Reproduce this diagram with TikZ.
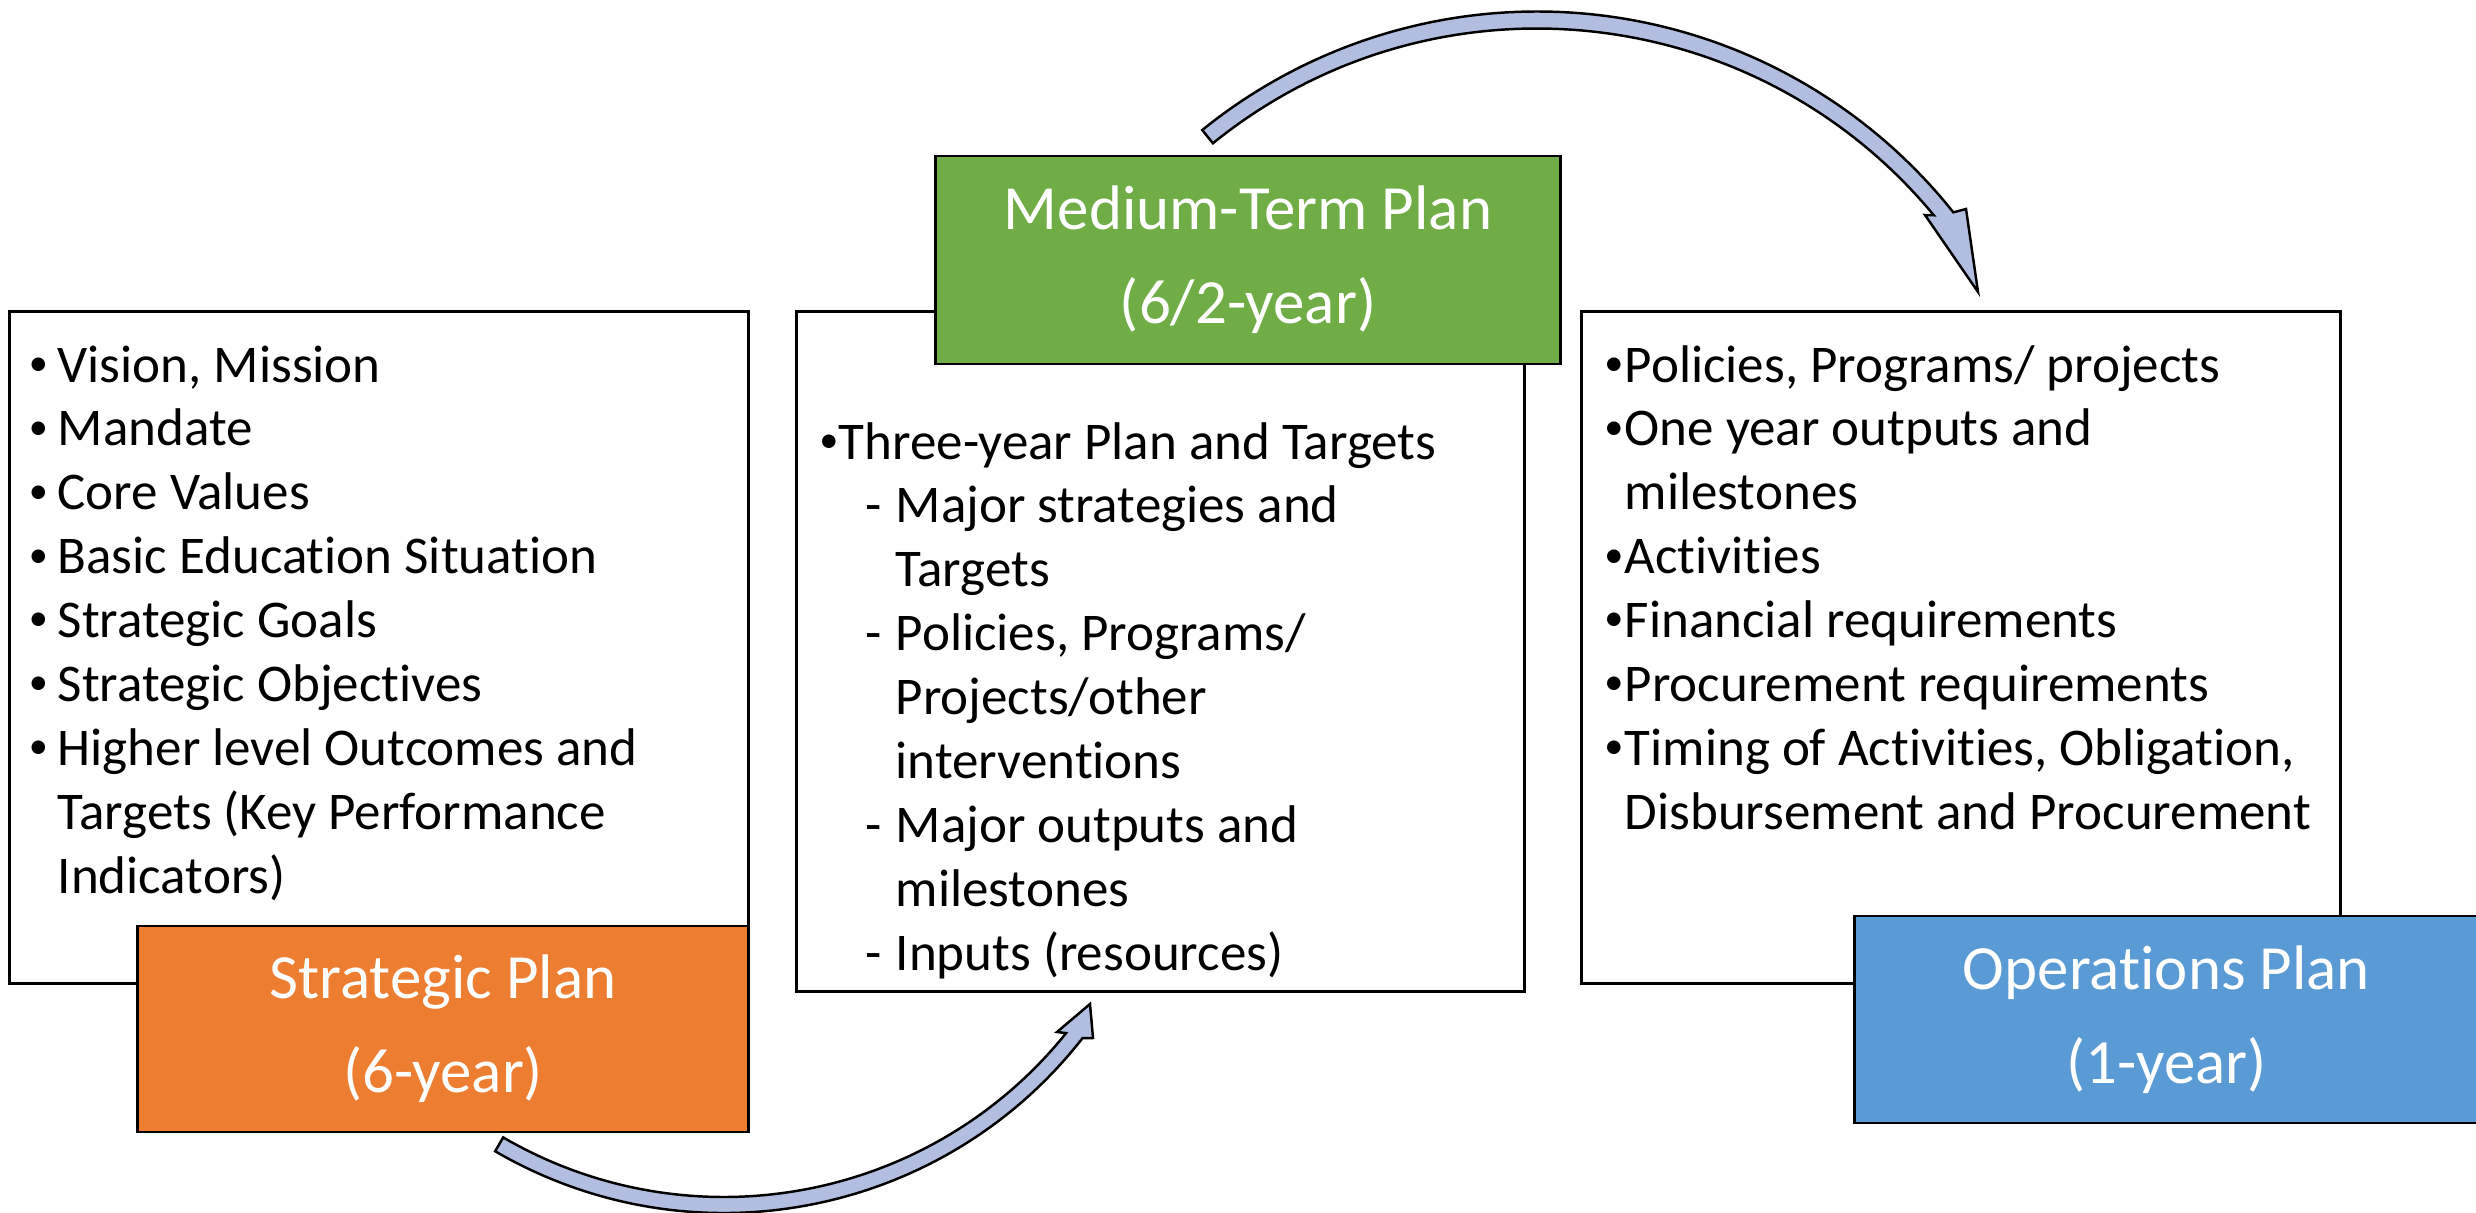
\documentclass[tikz,border=0pt]{standalone}
\usepackage{fontspec}
\setmainfont{Carlito}[Ligatures={NoCommon,NoContextual,NoRare},RawFeature=-calt]
\usetikzlibrary{calc}
\definecolor{orangeP}{RGB}{237,125,49}
\definecolor{greenP}{RGB}{112,173,71}
\definecolor{blueP}{RGB}{91,155,213}
\definecolor{arrowP}{RGB}{178,190,224}
\newcommand{\smallbul}{\raisebox{1.9pt}{\fontsize{10.9pt}{12pt}\selectfont •}}
\newcommand{\nl}{\kern0pt }
\tikzset{
  panel/.style={draw=black, line width=0.8pt, fill=white, inner sep=0pt},
  title/.style={draw=black, line width=0.8pt, inner sep=0pt, text=white, align=center,
    font=\fontsize{17.9pt}{26.75pt}\selectfont},
  body/.style={anchor=base west, inner sep=0pt, font=\fontsize{15.08pt}{18.2pt}\selectfont},
  bul/.style={anchor=base, inner sep=0pt, font=\fontsize{15.08pt}{18.2pt}\selectfont},
  bigarrow/.style={draw=black, line width=0.7pt, fill=arrowP, line join=miter},
}
\begin{document}
\begin{tikzpicture}[x=0.01cm,y=0.01cm]
\useasboundingbox (0,0) rectangle (2476,-1212);
\clip (0,0) rectangle (2476,-1212);
\fill[white] (0,0) rectangle (2476,-1212);

% white panels
\node[panel, minimum width=7.38cm, minimum height=6.71cm] (spbox) at (379,-647.5) {};
\node[panel, minimum width=7.27cm, minimum height=6.79cm] (mtbox) at (1160.5,-651.5) {};
\node[panel, minimum width=7.58cm, minimum height=6.71cm] (opbox) at (1961,-647.5) {};

% left panel text
\foreach \t [count=\i] in {{Vision, Mission},{Mandate},{Core Values},{Basic Education Situat\nl ion},
  {Strategic Goals},{Strategic Object\nl ives},{Higher level Outcomes and},
  {Targets (Key Performance},{Indicators)}}
  \node[body] (L\i) at (57,{-382-63.9*(\i-1)}) {\t};
\foreach \i in {1,...,7}
  \node[bul] (LB\i) at (38.5,{-382-63.9*(\i-1)}) {\smallbul};

% middle panel text
\node[bul] (MB1) at (829,-459) {\smallbul};
\node[body] (M1) at (838,-459) {Three-year Plan and Targets};
\foreach \t [count=\i from 2] in {{Major strategies and},{Targets},{Policies, Programs/},
  {Projects/other},{intervent\nl ions},{Major outputs and},{milestones},{Inputs (resources)}}
  \node[body] (M\i) at (895,{-459-63.9*(\i-1)}) {\t};
\foreach \i in {2,4,7,9}
  \node[bul] (MD\i) at (874,{-459-63.9*(\i-1)}) {-};

% right panel text
\foreach \t [count=\i] in {{Policies, Programs/ projects},{One year outputs and},{milestones},
  {Act\nl ivit\nl ies},{Financial requirements},{Procurement requirements},
  {Timing of Act\nl ivit\nl ies, Obligat\nl ion,},{Disbursement and Procurement}}
  \node[body] (R\i) at (1624,{-382-63.9*(\i-1)}) {\t};
\foreach \i in {1,2,4,5,6,7}
  \node[bul] (RB\i) at (1614,{-382-63.9*(\i-1)}) {\smallbul};

% coloured title boxes
\node[title, fill=orangeP, minimum width=6.10cm, minimum height=2.06cm] (sp) at (443,-1029) {Strategic Plan\\(6-year)};
\node[title, fill=greenP, minimum width=6.24cm, minimum height=2.08cm] (mt) at (1248,-260) {Medium-Term Plan\\(6/2-year)};
\node[title, fill=blueP, minimum width=6.23cm, minimum height=2.07cm] (op) at (2166.5,-1019.5) {Operat\nl ions Plan\\(1-year)};

% curved block arrows
\coordinate (c1) at (1537,-543.5);
\coordinate (c2) at (724,-758);
\coordinate (t1) at (1978,-292);
\coordinate (t2) at (1090,-1004);
\draw[bigarrow] ($(c1)+(129:532)$) arc[start angle=129, end angle=38.5, radius=532]
  -- (1966,-209) -- (t1) -- (1925,-215)
  -- ($(c1)+(39.6:515)$) arc[start angle=39.6, end angle=129, radius=515] -- cycle;
\draw[bigarrow] ($(c2)+(-120.2:455)$) arc[start angle=-120.2, end angle=-38, radius=455]
  -- (1093,-1038) -- (t2) -- (1057,-1032)
  -- ($(c2)+(-38.8:439)$) arc[start angle=-38.8, end angle=-120.2, radius=439] -- cycle;
\end{tikzpicture}
\end{document}
